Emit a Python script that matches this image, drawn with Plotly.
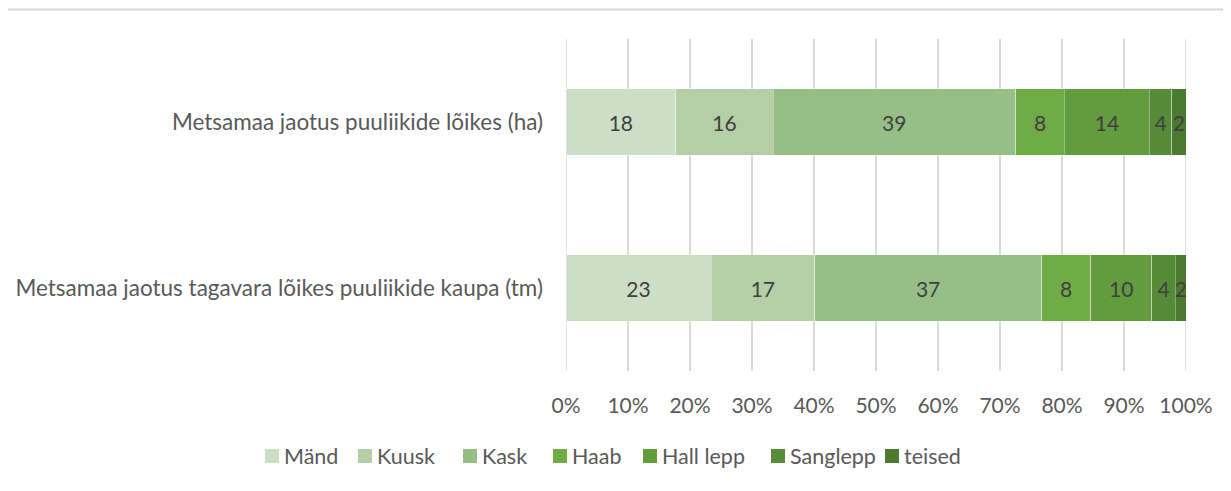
import plotly.graph_objects as go

categories = [
    "Metsamaa jaotus puuliikide lõikes (ha)",
    "Metsamaa jaotus tagavara lõikes puuliikide kaupa (tm)",
]
species = ["Mänd", "Kuusk", "Kask", "Haab", "Hall lepp", "Sanglepp", "teised"]
# percentage shares per species, [row1, row2]
values = {
    "Mänd": [17.7, 23.4],
    "Kuusk": [15.7, 16.7],
    "Kask": [39.1, 36.6],
    "Haab": [7.9, 7.9],
    "Hall lepp": [13.7, 9.9],
    "Sanglepp": [3.6, 3.8],
    "teised": [2.3, 1.7],
}
colors = ["#CCDEC5", "#B4CFA6", "#97BE86", "#6FAC46", "#639C3E", "#568C37", "#4B7A30"]
xticks = list(range(0, 101, 10))

# page layout (page pixels; the page body adds an 8px offset)
BODY = 8
PLOT_L, PLOT_R, PLOT_T, PLOT_B = 566, 1186, 39, 371
PW, PH = PLOT_R - PLOT_L, PLOT_B - PLOT_T
W, H = 1231, 491


def xp(px):
    return (px - PLOT_L) / PW


def yp(py):
    return (PLOT_B - py) / PH


font = "Lato"
fig = go.Figure()
for s, c in zip(species, colors):
    fig.add_trace(go.Bar(
        y=categories, x=values[s], name=s, orientation="h",
        marker=dict(color=c, line=dict(color="rgba(255,255,255,0.35)", width=1)),
        text=[f"{v:.0f}" for v in values[s]], textposition="inside",
        insidetextanchor="middle", textangle=0, constraintext="none",
        insidetextfont=dict(family=font, size=21, color="#404040"),
        cliponaxis=False, hoverinfo="x+name", showlegend=False,
    ))

# custom legend (swatch + label)
legend_x = [265, 358, 463, 553, 643, 771, 885]
legend_y = 456
shapes = [dict(type="line", xref="paper", yref="paper", x0=xp(0), x1=xp(W),
               y0=yp(9.5), y1=yp(9.5), line=dict(color="#D9D9D9", width=2))]
# grid lines at the axis ends (0% and 100%)
for gx in (xticks[0], xticks[-1]):
    shapes.append(dict(type="line", xref="x", yref="paper", x0=gx, x1=gx, y0=0, y1=1,
                       layer="below", line=dict(color="#D9D9D9", width=1.5)))
annotations = []
for s, c, lx in zip(species, colors, legend_x):
    shapes.append(dict(type="rect", xref="paper", yref="paper",
                       x0=xp(lx), x1=xp(lx + 14), y0=yp(legend_y - 7), y1=yp(legend_y + 7),
                       fillcolor=c, line=dict(width=0)))
    annotations.append(dict(text=s, xref="paper", yref="paper", x=xp(lx + 17), y=yp(legend_y),
                            xanchor="left", yanchor="middle", showarrow=False,
                            font=dict(family=font, size=21.5, color="#595959")))

fig.update_layout(
    barmode="stack", barnorm="percent", bargap=0.6,
    width=W, height=H,
    margin=dict(l=PLOT_L - BODY, r=W - (PLOT_R - BODY), t=PLOT_T - BODY, b=H - (PLOT_B - BODY),
                autoexpand=False),
    plot_bgcolor="white", paper_bgcolor="white",
    font=dict(family=font, size=21, color="#595959"),
    xaxis=dict(range=[0, 100], tickvals=xticks, ticktext=[f"{t}%" for t in xticks],
               showgrid=True, gridcolor="#D9D9D9", gridwidth=1.5, zeroline=False,
               showline=False, ticks="", ticklabelstandoff=20, automargin=False,
               tickfont=dict(family=font, size=21, color="#595959")),
    yaxis=dict(autorange="reversed", showgrid=False, ticks="", ticklabelstandoff=22,
               automargin=False,
               tickfont=dict(family=font, size=22.5, color="#595959")),
    shapes=shapes,
    annotations=annotations,
    showlegend=False,
)
fig.write_html("out.html")
